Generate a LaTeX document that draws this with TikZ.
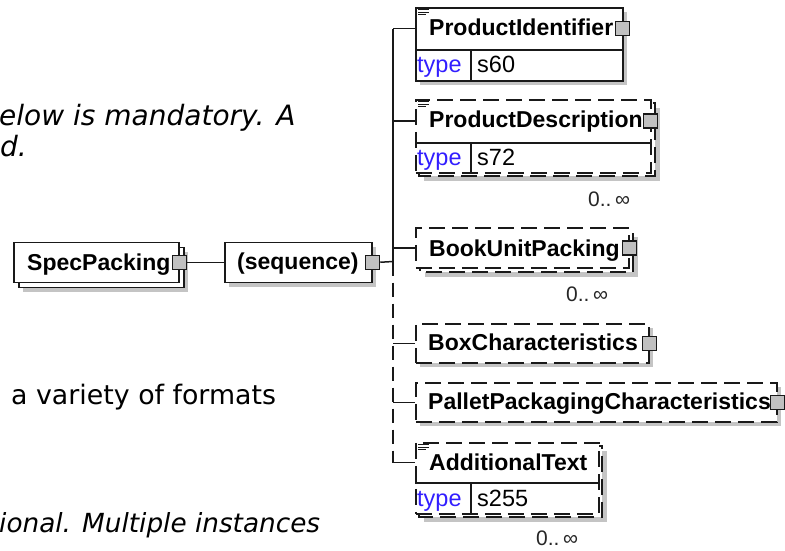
\documentclass[tikz,border=0pt]{standalone}
\usepackage{fontspec}
\setmainfont{Liberation Sans}
\newfontfamily\dvfont{DejaVu Sans}
\definecolor{lc}{RGB}{25,25,25}
\definecolor{shc}{RGB}{196,196,196}
\definecolor{sqc}{RGB}{192,192,192}
\definecolor{typec}{RGB}{50,30,255}
\newcommand{\noteicon}[1]{%
  \draw[line width=1pt, draw=lc] (418,#1+2.8) -- (429,#1+2.8) (418,#1+5.3) -- (429,#1+5.3) (418,#1+7.8) -- (426,#1+7.8);}
\begin{document}
\begin{tikzpicture}[x=1pt,y=-1pt,
  ln/.style={line width=1.5pt, draw=lc},
  bx/.style={ln, fill=white, rectangle, inner sep=0pt, anchor=north west},
  hid/.style={rectangle, inner sep=0pt, anchor=north west},
  opt/.style={dash pattern=on 16pt off 7pt},
  shd/.style={fill=shc, draw=none},
  sq/.style={ln, fill=sqc, rectangle, minimum size=14pt, inner sep=0pt},
  lbl/.style={font=\fontsize{23}{27}\selectfont\bfseries, text=black, inner sep=0pt, anchor=base west},
  typ/.style={font=\fontsize{23.5}{27}\selectfont, text=typec, inner sep=0pt, anchor=base west},
  val/.style={font=\fontsize{23.5}{27}\selectfont, text=black, inner sep=0pt, anchor=base west},
  mult/.style={font=\fontsize{21}{24}\selectfont, text=black!85, inner sep=0pt, anchor=base west},
  bg/.style={font=\dvfont\fontsize{27.5}{32}\selectfont, text=black, inner sep=0pt},
]
\useasboundingbox (0,0) rectangle (785,550);
\fill[white] (0,0) rectangle (785,550);

% background text
\node[bg, font=\dvfont\fontsize{28}{32}\selectfont, anchor=base west] (t1) at (-1,125) {\itshape elow is mandatory. A};
\node[bg, font=\dvfont\fontsize{28}{32}\selectfont, anchor=base west] (t2) at (0,156) {\itshape d.};
\node[bg, font=\dvfont\fontsize{26.8}{32}\selectfont, anchor=base west] (t3) at (11,404) {a variety of formats};
\node[bg, font=\dvfont\fontsize{26.3}{32}\selectfont, anchor=base west] (t4) at (-1,532) {\itshape ional. Multiple instances};

% SpecPacking
\fill[shd] (23,251.5) rectangle (188,291.5);
\node[bx, minimum width=165pt, minimum height=40pt] (spback) at (18,246.5) {};
\node[bx, minimum width=165pt, minimum height=40pt] (sp) at (13,241.5) {};
\node[lbl] (spl) at (27,270) {SpecPacking};
\node[sq] (spsq) at (sp.east) {};

% sequence
\fill[shd] (229,246.5) rectangle (376,286.5);
\node[bx, minimum width=147pt, minimum height=40pt] (seq) at (224,241.5) {};
\node[lbl] (seql) at (237,269.5) {(sequence)};
\node[sq] (seqsq) at (seq.east) {};

\draw[ln] (spsq.east) -- (seq.west);
\coordinate (tj) at (393,261.5);
\draw[ln] (seqsq.east) -- (tj);

% ProductIdentifier
\fill[shd] (420,12) rectangle (627,85);
\node[bx, minimum width=207pt, minimum height=73pt] (pibox) at (415,7) {};
\node[hid, minimum width=207pt, minimum height=43pt] (pi) at (415,7) {};
\draw[ln] (415,50) -- (622,50) (471,50) -- (471,80);
\noteicon{7}
\node[lbl] (pil) at (429,35) {ProductIdentifier};
\node[typ] (pity) at (417,72.5) {type};
\node[val] (piv) at (477,72.5) {s60};
\node[sq] (pisq) at (pi.east) {};

% ProductDescription
\fill[shd] (424,108) rectangle (660,181);
\draw[ln, opt, fill=white] (419,103) rectangle (655,176);
\node[bx, opt, minimum width=235pt, minimum height=73pt] (pdbox) at (415,99) {};
\node[hid, minimum width=235pt, minimum height=44pt] (pd) at (415,99) {};
\draw[ln] (415,143) -- (650,143) (471,143) -- (471,172);
\noteicon{99}
\node[lbl] (pdl) at (429,127) {ProductDescription};
\node[typ] (pdty) at (417,165) {type};
\node[val] (pdv) at (477,165) {s72};
\node[sq] (pdsq) at (pd.east) {};
\node[mult] (pdm) at (588,206.5) {0..\,∞};

% BookUnitPacking
\fill[shd] (425,237) rectangle (638,277);
\draw[ln, opt, fill=white] (420,232) rectangle (633,272);
\node[bx, opt, minimum width=213pt, minimum height=40pt] (bup) at (415,227) {};
\node[lbl] (bupl) at (429,256.5) {BookUnitPacking};
\node[sq] (bupsq) at (bup.east) {};
\node[mult] (bupm) at (566,301.5) {0..\,∞};

% BoxCharacteristics
\fill[shd] (420,328) rectangle (653,367);
\node[bx, opt, minimum width=233pt, minimum height=39pt] (boxc) at (415,323) {};
\node[lbl] (boxcl) at (428,350.5) {BoxCharacteristics};
\node[sq] (boxcsq) at (boxc.east) {};

% PalletPackagingCharacteristics
\fill[shd] (420,387) rectangle (781,426);
\node[bx, opt, minimum width=361pt, minimum height=39pt] (ppc) at (415,382) {};
\node[lbl] (ppcl) at (428,409) {PalletPackagingCharacteristics};
\node[sq] (ppcsq) at (ppc.east) {};

% AdditionalText
\fill[shd] (424,451) rectangle (607,522);
\draw[ln, opt, fill=white] (419,446) rectangle (602,517);
\node[bx, opt, minimum width=183pt, minimum height=71pt] (atbox) at (415,442) {};
\node[hid, minimum width=183pt, minimum height=41pt] (at) at (415,442) {};
\draw[ln] (415,483) -- (598,483) (471,483) -- (471,513);
\noteicon{442}
\node[lbl] (atl) at (429,470) {AdditionalText};
\node[typ] (atty) at (417,506.5) {type};
\node[val] (atv) at (477,506.5) {s255};
\node[mult] (atm) at (536,545.5) {0..\,∞};

% trunk and branches
\draw[ln] (pi.west -| tj) -- (tj);
\draw[ln, dash pattern=on 14pt off 7pt] (tj) -- (at.west -| tj);
\draw[ln] (pi.west -| tj) -- (pi.west);
\draw[ln] (pd.west -| tj) -- (pd.west);
\draw[ln] (bup.west -| tj) -- (bup.west);
\draw[ln] (boxc.west -| tj) -- (boxc.west);
\draw[ln] (ppc.west -| tj) -- (ppc.west);
\draw[ln] (at.west -| tj) -- (at.west);
\end{tikzpicture}
\end{document}
